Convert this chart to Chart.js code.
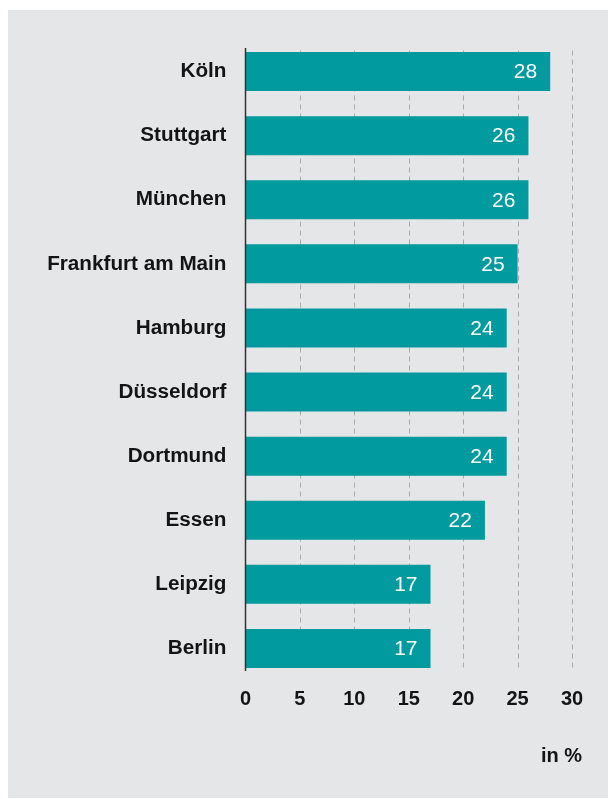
<!DOCTYPE html>
<html>
<head>
<meta charset="utf-8">
<script src="https://cdn.jsdelivr.net/npm/chart.js@4"></script>
<style>
  html, body { margin: 0; padding: 0; background: #ffffff; }
  #bg { position: absolute; left: 8px; top: 10px; width: 600px; height: 788px; background: #e5e6e8; }
  #wrap { position: absolute; left: 0; top: 0; width: 608px; height: 799px; }
</style>
</head>
<body>
<div id="bg"></div>
<div id="wrap"><canvas id="c" width="608" height="799"></canvas></div>
<script>
const categories = ["Köln", "Stuttgart", "München", "Frankfurt am Main", "Hamburg", "Düsseldorf", "Dortmund", "Essen", "Leipzig", "Berlin"];
const values = [28, 26, 26, 25, 24, 24, 24, 22, 17, 17];
const xTicks = [0, 5, 10, 15, 20, 25, 30];
const unitLabel = "in %";

const FONT = "'Liberation Sans', Arial, Helvetica, sans-serif";
const TEXT = "#141414";

const decor = {
  id: 'decor',
  beforeDatasetsDraw(chart) {
    const ctx = chart.ctx, xs = chart.scales.x, a = chart.chartArea;
    ctx.save();
    ctx.strokeStyle = '#a9aaac';
    ctx.lineWidth = 1;
    ctx.setLineDash([5, 4]);
    xTicks.forEach(v => {
      if (v === 0) return;
      const x = Math.round(xs.getPixelForValue(v)) + 0.5;
      ctx.beginPath();
      ctx.moveTo(x, a.top + 11);
      ctx.lineTo(x, a.bottom - 11);
      ctx.stroke();
    });
    ctx.restore();
  },
  afterDatasetsDraw(chart) {
    const ctx = chart.ctx, xs = chart.scales.x, a = chart.chartArea;
    ctx.save();
    ctx.strokeStyle = '#333333';
    ctx.lineWidth = 1.5;
    const x0 = xs.getPixelForValue(0);
    ctx.beginPath();
    ctx.moveTo(x0, a.top + 8.5);
    ctx.lineTo(x0, a.bottom - 9.5);
    ctx.stroke();
    const meta = chart.getDatasetMeta(0);
    ctx.fillStyle = '#ffffff';
    ctx.font = "21px " + FONT;
    ctx.textAlign = 'right';
    ctx.textBaseline = 'middle';
    meta.data.forEach((bar, i) => {
      ctx.fillText(String(values[i]), bar.x - 13, bar.y + 1);
    });
    ctx.fillStyle = TEXT;
    ctx.font = "bold 20px " + FONT;
    ctx.textAlign = 'right';
    ctx.fillText(unitLabel, xs.getPixelForValue(30) + 10, 756);
    ctx.restore();
  }
};

new Chart(document.getElementById('c'), {
  type: 'bar',
  data: {
    labels: categories,
    datasets: [{
      data: values,
      backgroundColor: '#009a9f',
      borderWidth: 0,
      categoryPercentage: 1,
      barPercentage: 0.609
    }]
  },
  options: {
    indexAxis: 'y',
    responsive: false,
    animation: false,
    devicePixelRatio: 1,
    layout: { padding: { top: 39.5, right: 36, bottom: 78.5, left: 0 } },
    plugins: { legend: { display: false }, tooltip: { enabled: false } },
    scales: {
      x: {
        min: 0, max: 30,
        afterBuildTicks(scale) { scale.ticks = xTicks.map(v => ({ value: v })); },
        afterFit(scale) { scale.height = 40; },
        grid: { display: false, drawTicks: false },
        border: { display: false },
        ticks: { color: TEXT, font: { family: FONT, size: 20, weight: 'bold' }, padding: 7, maxRotation: 0 }
      },
      y: {
        afterFit(scale) { scale.width = 245.5; },
        grid: { display: false, drawTicks: false },
        border: { display: false },
        ticks: { color: TEXT, font: { family: FONT, size: 20.7, weight: 'bold' }, padding: 19 }
      }
    }
  },
  plugins: [decor]
});
</script>
</body>
</html>
